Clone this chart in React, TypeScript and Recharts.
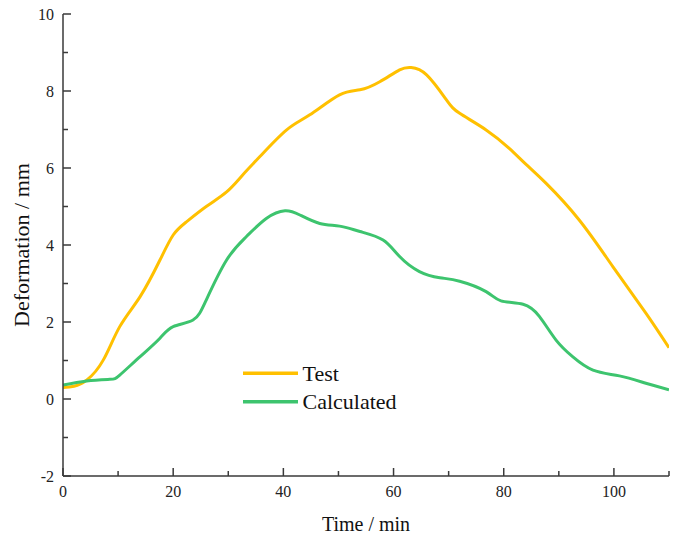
import React from 'react';
import { LineChart, Line, XAxis, YAxis, Legend } from 'recharts';

const testTime = [0, 2, 4.3, 7.3, 10.3, 14, 17.6, 20, 22.4, 26, 29.7, 32.5, 35.7, 40.6, 44.8, 50.2, 53.9, 57.5, 61.1, 63.2, 66, 69.6, 72, 76.8, 81, 84, 87.7, 93.7, 99.8, 105.8, 110];
const testValues = [0.3, 0.33, 0.49, 1.01, 1.88, 2.66, 3.61, 4.26, 4.6, 5.0, 5.38, 5.8, 6.29, 6.99, 7.38, 7.9, 8.03, 8.24, 8.55, 8.61, 8.42, 7.77, 7.42, 6.99, 6.51, 6.1, 5.6, 4.65, 3.44, 2.23, 1.33];

const calcTime = [0, 4.3, 8.5, 10.3, 14, 17.6, 20, 23.6, 26, 29.7, 33.3, 36.9, 40.3, 43, 46.6, 50.2, 53.9, 58.1, 61.1, 64.7, 68.4, 72, 76.8, 79.5, 83.5, 86.5, 89.5, 92.5, 96.2, 101, 105.8, 110];
const calcValues = [0.36, 0.47, 0.51, 0.62, 1.1, 1.58, 1.88, 2.05, 2.57, 3.61, 4.22, 4.69, 4.89, 4.78, 4.56, 4.49, 4.35, 4.13, 3.7, 3.31, 3.15, 3.06, 2.79, 2.55, 2.46, 2.14, 1.53, 1.1, 0.75, 0.6, 0.41, 0.24];

const xTicks = [0, 10, 20, 30, 40, 50, 60, 70, 80, 90, 100, 110];
const xLabels = [0, 20, 40, 60, 80, 100];
const yTicks = [-2, -1, 0, 1, 2, 3, 4, 5, 6, 7, 8, 9, 10];
const yLabels = [-2, 0, 2, 4, 6, 8, 10];

const seriesNames = ['Test', 'Calculated'];
const seriesColors = ['#FFC000', '#3DC46E'];

const testData = testTime.map((t, i) => ({ t, v: testValues[i] }));
const calcData = calcTime.map((t, i) => ({ t, v: calcValues[i] }));

const FONT = '"Liberation Serif", "Times New Roman", serif';
const AXIS = '#3a3a3a';

const XTick = (props: any) => {
  const { x, y, payload } = props;
  const major = xLabels.includes(payload.value);
  return (
    <g>
      <line x1={x} y1={y} x2={x} y2={y - (major ? 8 : 5)} stroke={AXIS} strokeWidth={1.5} />
      {major && (
        <text x={x} y={y + 21} textAnchor="middle" style={{ fontFamily: FONT, fontSize: 16 }} fill="#222">
          {payload.value}
        </text>
      )}
    </g>
  );
};

const YTick = (props: any) => {
  const { x, y, payload } = props;
  const major = yLabels.includes(payload.value);
  return (
    <g>
      <line x1={x} y1={y} x2={x + (major ? 8 : 5)} y2={y} stroke={AXIS} strokeWidth={1.5} />
      {major && (
        <text x={x - 9} y={y + 5.5} textAnchor="end" style={{ fontFamily: FONT, fontSize: 16 }} fill="#222">
          {payload.value}
        </text>
      )}
    </g>
  );
};

const LegendContent = () => (
  <svg width={220} height={70} style={{ display: 'block' }}>
    {seriesNames.map((n, i) => (
      <g key={n}>
        <line x1={13} x2={68} y1={23.3 + i * 28.4} y2={23.3 + i * 28.4} stroke={seriesColors[i]} strokeWidth={3.5} />
        <text x={72.5} y={31 + i * 28.4} style={{ fontFamily: FONT, fontSize: 22 }} fill="#111">
          {n}
        </text>
      </g>
    ))}
  </svg>
);

export default function App() {
  return (
    <div style={{ position: 'absolute', left: 0, top: 0, width: 683, height: 539, background: '#fff' }}>
      <LineChart width={683} height={539} margin={{ top: 14, right: 14, left: 0, bottom: 0 }}>
        <XAxis
          type="number"
          dataKey="t"
          domain={[0, 110]}
          ticks={xTicks}
          interval={0}
          allowDataOverflow
          height={63}
          tickSize={0}
          tickMargin={0}
          tick={<XTick />}
          axisLine={{ stroke: AXIS, strokeWidth: 1.5 }}
          tickLine={false}
          label={{ value: 'Time / min', position: 'insideBottom', offset: 8, style: { fontFamily: FONT, fontSize: 20 }, fill: '#111' }}
        />
        <YAxis
          type="number"
          domain={[-2, 10]}
          ticks={yTicks}
          interval={0}
          allowDataOverflow
          width={63}
          tickSize={0}
          tickMargin={0}
          tick={<YTick />}
          axisLine={{ stroke: AXIS, strokeWidth: 1.5 }}
          tickLine={false}
          label={{ value: 'Deformation / mm', angle: -90, position: 'insideLeft', offset: 21, fill: '#111', style: { textAnchor: 'middle', fontFamily: FONT, fontSize: 22 } }}
        />
        <Legend
          layout="vertical"
          align="center"
          verticalAlign="middle"
          wrapperStyle={{ left: 230, top: 350, width: 220 }}
          content={<LegendContent />}
        />
        <Line data={testData} dataKey="v" name={seriesNames[0]} type="natural" stroke={seriesColors[0]} strokeWidth={3} dot={false} isAnimationActive={false} />
        <Line data={calcData} dataKey="v" name={seriesNames[1]} type="natural" stroke={seriesColors[1]} strokeWidth={3} dot={false} isAnimationActive={false} />
      </LineChart>
    </div>
  );
}
